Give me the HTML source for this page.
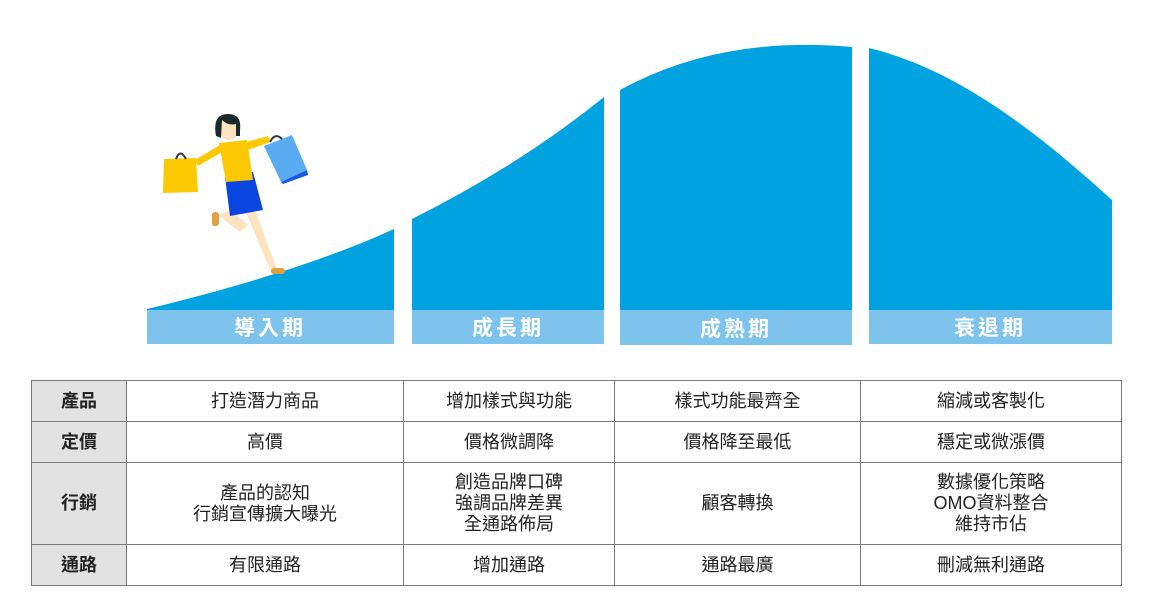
<!DOCTYPE html>
<html><head><meta charset="utf-8"><style>
body{margin:0;width:1167px;height:609px;background:#fff;position:relative;overflow:hidden;font-family:"Liberation Sans","Noto Sans CJK TC",sans-serif}
svg{position:absolute;left:0;top:0}
table{position:absolute;left:31px;top:380px;border-collapse:collapse;width:1091px}
td{border:1.5px solid #7a7a7a;text-align:center;font-size:18px;color:#222;padding:0;line-height:21px}
td.h{background:#e2e2e2;font-weight:bold;width:94px}
</style></head><body>
<svg width="1167" height="360">
<g fill="#00a3e0">
<path d="M147,309 Q300,272 394,229 L394,311 L147,311Z"/>
<path d="M412,219 Q520,165 604,97 L604,311 L412,311Z"/>
<path d="M620,90 Q720,35 852,47 L852,311 L620,311Z"/>
<path d="M869,48 C960,70 1040,135 1112,200 L1112,311 L869,311Z"/>
</g>
<g fill="#7dc3eb">
<rect x="147" y="310" width="247" height="34"/>
<rect x="412" y="310" width="192" height="34"/>
<rect x="620" y="310" width="232" height="35"/>
<rect x="869" y="310" width="243" height="34"/>
</g>
<g fill="#fff" font-size="21" font-weight="bold" text-anchor="middle" font-family="Liberation Sans,Noto Sans CJK TC,sans-serif" letter-spacing="3">
<text x="270" y="335">導入期</text>
<text x="508" y="335">成長期</text>
<text x="736" y="336">成熟期</text>
<text x="990" y="335">衰退期</text>
</g>
<g>
<path d="M218,215 L232,210 L248,225 L240,232Z" fill="#fde3c0"/>
<rect x="212" y="212" width="7" height="14" rx="3" fill="#e0a040"/>
<path d="M245,210 L255,210 L278,272 L272,274Z" fill="#fde3c0"/>
<rect x="271" y="268" width="14" height="6" rx="3" fill="#e0a040"/>
<path d="M225,177 L253,172 L263,210 L230,216Z" fill="#0a45e0"/>
<path d="M219,143 L247,140 L253,180 L226,182Z" fill="#fcc800"/>
<path d="M220,145 L195,160 L198,166 L222,152Z" fill="#fcc800"/>
<path d="M246,142 L268,136 L270,142 L248,150Z" fill="#fcc800"/>
<ellipse cx="229" cy="128" rx="10" ry="12" fill="#fde3c0"/>
<path d="M216,136 Q212,114 228,114 Q242,114 240,130 L240,136 L236,136 L236,124 Q228,126 222,120 L221,138Z" fill="#1a2a2a"/>
<path d="M164,159 L196,158 L198,192 L163,193Z" fill="#fcc800"/>
<path d="M176,159 Q180,148 186,159" stroke="#333" fill="none" stroke-width="2"/>
<path d="M264,146 L292,135 L307,170 L281,182Z" fill="#5aacf2"/>
<path d="M281,182 L307,170 L308,175 L283,184Z" fill="#1a5ae0"/>
<path d="M270,142 Q275,132 282,139" stroke="#333" fill="none" stroke-width="2"/>
</g>
</svg>
<table>
<tr style="height:41px"><td class="h">產品</td><td style="width:276px">打造潛力商品</td><td style="width:210px">增加樣式與功能</td><td style="width:245px">樣式功能最齊全</td><td>縮減或客製化</td></tr>
<tr style="height:41px"><td class="h">定價</td><td>高價</td><td>價格微調降</td><td>價格降至最低</td><td>穩定或微漲價</td></tr>
<tr style="height:82px"><td class="h">行銷</td><td>產品的認知<br>行銷宣傳擴大曝光</td><td>創造品牌口碑<br>強調品牌差異<br>全通路佈局</td><td>顧客轉換</td><td>數據優化策略<br>OMO資料整合<br>維持市佔</td></tr>
<tr style="height:41px"><td class="h">通路</td><td>有限通路</td><td>增加通路</td><td>通路最廣</td><td>刪減無利通路</td></tr>
</table>
</body></html>
